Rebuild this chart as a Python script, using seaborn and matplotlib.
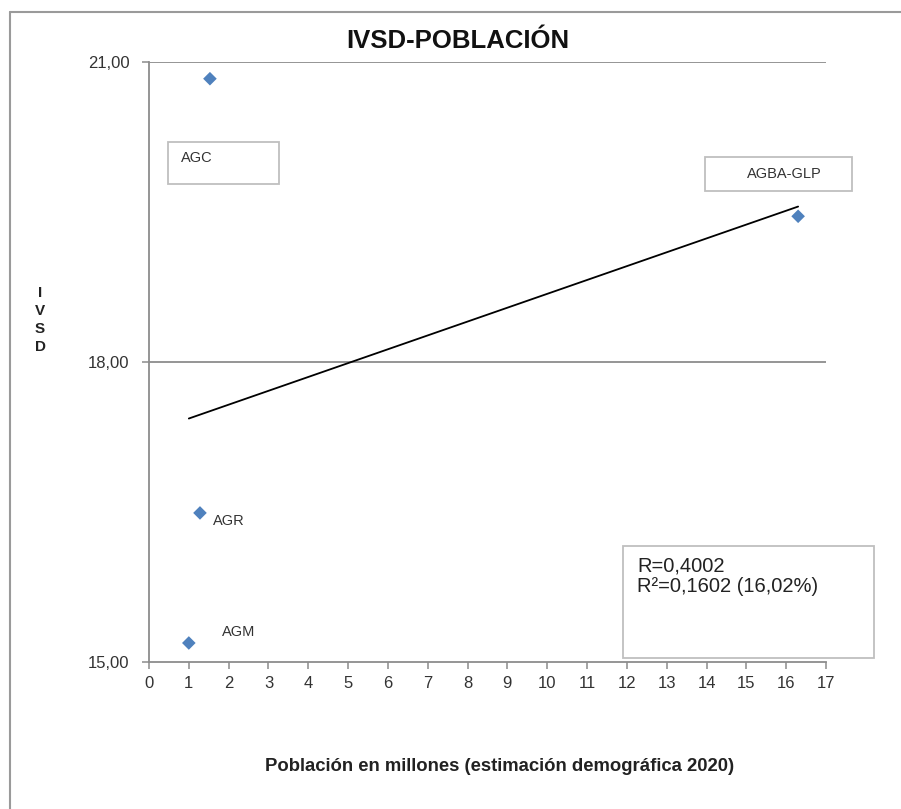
import numpy as np
import pandas as pd
import matplotlib
matplotlib.use('Agg')
import matplotlib.pyplot as plt
from matplotlib.lines import Line2D
from matplotlib.patches import Rectangle
from matplotlib.ticker import FuncFormatter
import seaborn as sns

# Data
regiones = ['AGC', 'AGBA-GLP', 'AGR', 'AGM']
poblacion = [1.53, 16.3, 1.28, 1.0]          # millones
ivsd = [20.83, 19.455, 16.49, 15.19]
x_ticks = list(range(0, 18))
y_ticks = [15, 18, 21]
r_text = 'R=0,4002\nR²=0,1602 (16,02%)'

df = pd.DataFrame({'region': regiones, 'poblacion': poblacion, 'ivsd': ivsd})

sns.set_style('white')
plt.rcParams['font.family'] = ['Liberation Sans', 'DejaVu Sans']

W, H = 901, 809
fig = plt.figure(figsize=(W / 100, H / 100), dpi=100)
ax = fig.add_axes([149 / W, 1 - 662 / H, (826 - 149) / W, (662 - 61.7) / H])

def fx(px):
    return px / W

def fy(py):
    return 1 - py / H

spine_col = '#8c8c8c'
blue = '#4F81BD'

# horizontal gridlines
for yv in y_ticks[1:]:
    ax.axhline(yv, color=spine_col, lw=1.3, zorder=0)

# trend line and points
sns.regplot(data=df, x='poblacion', y='ivsd', scatter=False, ci=None,
            color='black', line_kws={'lw': 1.3}, ax=ax)
sns.scatterplot(data=df, x='poblacion', y='ivsd', marker='D', s=48,
                color=blue, edgecolor='none', ax=ax, zorder=3)

ax.set_xlim(0, 17)
ax.set_ylim(15, 21)
ax.set_xticks(x_ticks)
ax.set_yticks(y_ticks)
ax.yaxis.set_major_formatter(FuncFormatter(lambda v, p: f'{v:.2f}'.replace('.', ',')))
ax.set_xlabel('')
ax.set_ylabel('')

for s in ['top', 'right']:
    ax.spines[s].set_visible(False)
for s in ['left', 'bottom']:
    ax.spines[s].set_color(spine_col)
    ax.spines[s].set_linewidth(1.3)

ax.tick_params(axis='y', direction='out', length=5, width=1.1, color=spine_col,
               labelsize=12, labelcolor='#333333', pad=9, left=True)
ax.tick_params(axis='x', direction='out', length=5, width=1.1, color=spine_col,
               labelsize=12, labelcolor='#333333', pad=5, bottom=True)

# point labels
lab_col = '#333333'
ax.annotate('AGR', (poblacion[2], ivsd[2]), xytext=(9, -6), textcoords='offset points',
            fontsize=10.5, color=lab_col, ha='left', va='center')
ax.annotate('AGM', (poblacion[3], ivsd[3]), xytext=(24, 8), textcoords='offset points',
            fontsize=10.5, color=lab_col, ha='left', va='center')

box_col = '#bfbfbf'
# AGC label box
fig.add_artist(Rectangle((fx(167.7), fy(184)), fx(278.7) - fx(167.7), fy(141.7) - fy(184),
                         transform=fig.transFigure, fill=False, edgecolor=box_col, lw=1.3))
fig.text(fx(181), fy(158), regiones[0], fontsize=10.5, color=lab_col, ha='left', va='center')

# AGBA-GLP label box
fig.add_artist(Rectangle((fx(705), fy(190.7)), fx(852.3) - fx(705), fy(157.3) - fy(190.7),
                         transform=fig.transFigure, fill=False, edgecolor=box_col, lw=1.3))
fig.text(fx(784), fy(174), regiones[1], fontsize=10.5, color=lab_col, ha='center', va='center')

# R box
fig.add_artist(Rectangle((fx(623.3), fy(658)), fx(874) - fx(623.3), fy(546) - fy(658),
                         transform=fig.transFigure, fill=False, edgecolor=box_col, lw=1.3))
fig.text(fx(637), fy(556), r_text, fontsize=14.5, color='#222222', ha='left', va='top',
         linespacing=1.15)

# titles
fig.text(fx(458), fy(48.3), 'IVSD-POBLACIÓN', fontsize=18.5, fontweight='bold',
         ha='center', va='baseline', color='#111111')
fig.text(fx(500), fy(771), 'Población en millones (estimación demográfica 2020)',
         fontsize=13.3, fontweight='bold', ha='center', va='baseline', color='#222222')
fig.text(fx(40), fy(320), 'I\nV\nS\nD', fontsize=11, fontweight='bold',
         ha='center', va='center', linespacing=1.38, color='#222222')

# outer frame (left and top edges)
fig.add_artist(Line2D([fx(10), fx(10)], [0, fy(11.7)], transform=fig.transFigure,
                      color='#9a9a9a', lw=1.5))
fig.add_artist(Line2D([fx(10), 1], [fy(11.7), fy(11.7)], transform=fig.transFigure,
                      color='#9a9a9a', lw=1.5))

fig.savefig('out.png', dpi=100)
